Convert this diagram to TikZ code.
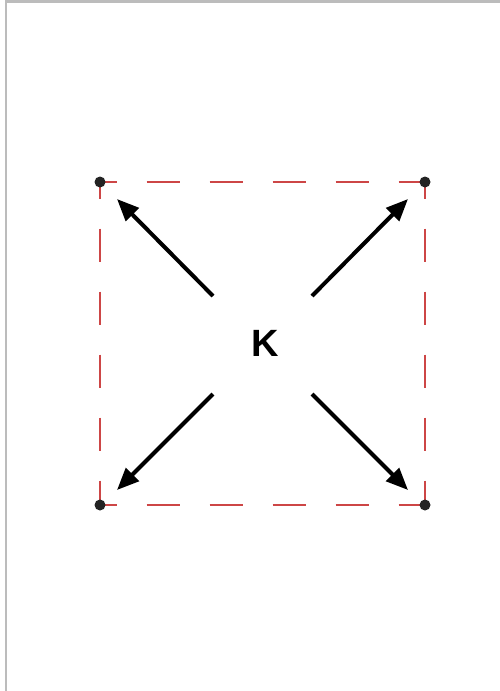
\documentclass[tikz,border=0pt]{standalone}
\usepackage{fontspec}
\setmainfont{Liberation Sans}
\usetikzlibrary{arrows.meta}
\definecolor{dashred}{RGB}{205,70,70}
\definecolor{framegray}{RGB}{188,188,188}
\definecolor{dotgray}{RGB}{35,35,35}
\tikzset{
  boxedge/.style={draw=dashred, line width=1.4pt, dash pattern=on 33pt off 30pt, dash phase=16.5pt},
  corner/.style={circle, fill=dotgray, inner sep=0pt, minimum size=11pt},
  outarrow/.style={line width=4pt, -{Triangle[length=22pt,width=18pt]}},
  frameline/.style={draw=framegray, line width=2.8pt}
}
\begin{document}
\begin{tikzpicture}[x=1pt,y=-1pt]
\useasboundingbox (0,0) rectangle (500,691);
\fill[white] (0,0) rectangle (500,691);
% page frame
\coordinate (ftl) at (6,1.6);
\coordinate (ftr) at (500,1.6);
\coordinate (fbl) at (6,691);
\draw[frameline] (ftr) -- (ftl) -- (fbl);
% corners
\coordinate (tl) at (100,182);
\coordinate (tr) at (425,182);
\coordinate (bl) at (100,505);
\coordinate (br) at (425,505);
\draw[boxedge] (tl) -- (tr);
\draw[boxedge] (tr) -- (br);
\draw[boxedge] (tl) -- (bl);
\draw[boxedge] (bl) -- (br);
\node[corner] (dtl) at (tl) {};
\node[corner] (dtr) at (tr) {};
\node[corner] (dbl) at (bl) {};
\node[corner] (dbr) at (br) {};
% center label
\node[font=\fontsize{38}{38}\selectfont\bfseries, inner sep=0pt] (k) at (265,343) {K};
% arrow starts and tips
\coordinate (snw) at (213,296);
\coordinate (sne) at (312,296);
\coordinate (ssw) at (213,394);
\coordinate (sse) at (312,394);
\coordinate (enw) at (117,199);
\coordinate (ene) at (408,199);
\coordinate (esw) at (117,490);
\coordinate (ese) at (408,490);
\draw[outarrow] (snw) -- (enw);
\draw[outarrow] (sne) -- (ene);
\draw[outarrow] (ssw) -- (esw);
\draw[outarrow] (sse) -- (ese);
\end{tikzpicture}
\end{document}
